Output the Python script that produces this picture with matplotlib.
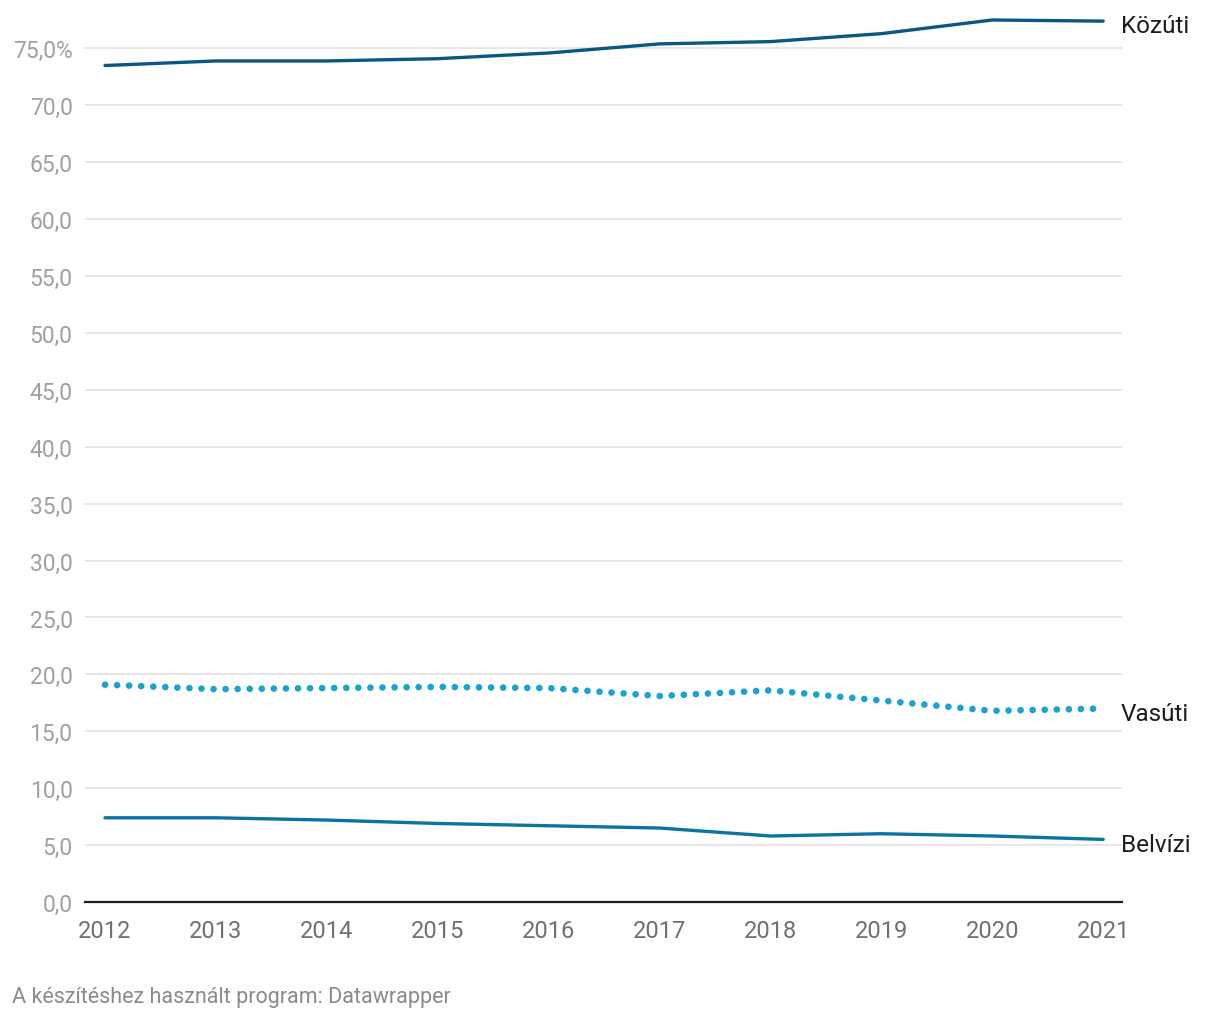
import matplotlib.pyplot as plt
from matplotlib.ticker import FixedLocator, FuncFormatter

plt.rcParams['font.family'] = ['Roboto', 'DejaVu Sans']

# data (share of freight, %)
years = [2012, 2013, 2014, 2015, 2016, 2017, 2018, 2019, 2020, 2021]
kozuti = [73.5, 73.9, 73.9, 74.1, 74.6, 75.4, 75.6, 76.3, 77.5, 77.4]
vasuti = [19.1, 18.7, 18.8, 18.9, 18.8, 18.1, 18.6, 17.7, 16.8, 17.0]
belvizi = [7.4, 7.4, 7.2, 6.9, 6.7, 6.5, 5.8, 6.0, 5.8, 5.5]

yticks = [0, 5, 10, 15, 20, 25, 30, 35, 40, 45, 50, 55, 60, 65, 70, 75]

fig = plt.figure(figsize=(12.2, 10.2), dpi=100)
ax = fig.add_axes([0.0697, 0.1147, 0.85, 0.8703])

ax.plot(years, kozuti, color='#0b5782', lw=2.4, solid_capstyle='round', zorder=3)
ax.plot(years, belvizi, color='#0a75a0', lw=2.4, solid_capstyle='round', zorder=3)
ax.plot(years, vasuti, color='#1aa3d1', lw=4.8, linestyle=(0, (0.01, 1.8)),
        dash_capstyle='round', zorder=3)

# labels at line ends
for name, vals in [('Közúti', kozuti), ('Vasúti', vasuti), ('Belvízi', belvizi)]:
    ax.annotate(name, xy=(1.0, vals[-1]), xycoords=('axes fraction', 'data'),
                xytext=(-1, -3.5), textcoords='offset points',
                ha='left', va='center', fontsize=17.5, color='#1d1d1d',
                annotation_clip=False)

ax.set_xlim(2011.82, 2021.17)
ax.set_ylim(0, 78)

ax.yaxis.set_major_locator(FixedLocator(yticks))
ax.yaxis.set_major_formatter(FuncFormatter(
    lambda v, p: f'{v:.1f}'.replace('.', ',') + ('%' if v == 75 else '')))
ax.set_xticks(years)
ax.set_xticklabels([str(y) for y in years])

ax.grid(axis='y', color='#e2e2e2', lw=1.2)
ax.set_axisbelow(True)
for s in ['top', 'right', 'left']:
    ax.spines[s].set_visible(False)
ax.spines['bottom'].set_color('#1d1d1d')
ax.spines['bottom'].set_linewidth(1.6)
ax.spines['bottom'].set_zorder(4)

ax.tick_params(axis='y', length=0, pad=9, labelsize=16.5, labelcolor='#a0a0a0')
ax.tick_params(axis='x', length=0, pad=12, labelsize=17, labelcolor='#707070')

fig.text(0.0098, 0.0225, 'A készítéshez használt program: Datawrapper',
         fontsize=15.5, color='#8a8a8a', ha='left', va='center')

fig.savefig('out.png', dpi=100)
